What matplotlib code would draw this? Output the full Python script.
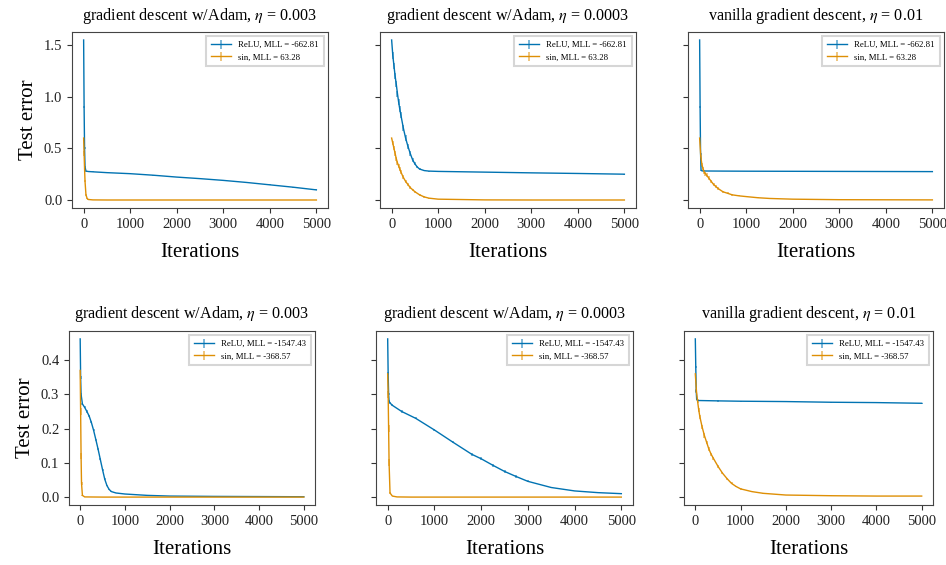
import matplotlib
matplotlib.use("Agg")
import matplotlib.pyplot as plt
import numpy as np

plt.rcParams['font.family'] = ['Liberation Serif', 'DejaVu Serif']
plt.rcParams['mathtext.fontset'] = 'stix'

BLUE = '#0173b2'
ORANGE = '#de8f05'

titles = ["gradient descent w/Adam, $\\eta$ = 0.003",
          "gradient descent w/Adam, $\\eta$ = 0.0003",
          "vanilla gradient descent, $\\eta$ = 0.01"]
legend_top = ["ReLU, MLL = -662.81", "sin, MLL = 63.28"]
legend_bot = ["ReLU, MLL = -1547.43", "sin, MLL = -368.57"]
xticks = [0, 1000, 2000, 3000, 4000, 5000]

# ---- top row (dataset 1) ----
it_t1 = [0, 10, 20, 30, 50, 100, 200, 500, 1000, 1500, 2000, 2500, 3000, 3500, 4000, 4500, 5000]
relu_t1 = [1.55, 0.9, 0.5, 0.32, 0.28, 0.276, 0.273, 0.265, 0.255, 0.24, 0.222, 0.207, 0.19, 0.17, 0.147, 0.124, 0.098]
relu_t1_err = [0.0, 0.01, 0.01, 0.005, 0.004, 0.004, 0.004, 0.004, 0.004, 0.004, 0.004, 0.004, 0.004, 0.004, 0.004, 0.004, 0.004]
it_t1s = [0, 10, 20, 30, 50, 75, 100, 200, 500, 1000, 2000, 3000, 4000, 5000]
sin_t1 = [0.6, 0.45, 0.3, 0.18, 0.05, 0.015, 0.005, 0.001, 0.0, 0.0, 0.0, 0.0, 0.0, 0.0]
sin_t1_err = [0.0, 0.02, 0.02, 0.01, 0.01, 0.005, 0.002, 0.0, 0.0, 0.0, 0.0, 0.0, 0.0, 0.0]

it_t2 = [0, 25, 50, 75, 100, 125, 150, 175, 200, 250, 300, 350, 400, 450, 500, 550, 600, 700, 800, 1000, 2000, 3000, 4000, 5000]
relu_t2 = [1.55, 1.4, 1.3, 1.2, 1.12, 1.03, 0.95, 0.88, 0.82, 0.7, 0.6, 0.52, 0.45, 0.39, 0.35, 0.32, 0.3, 0.285, 0.28, 0.277, 0.27, 0.263, 0.257, 0.25]
relu_t2_err = [0.0, 0.03, 0.03, 0.03, 0.03, 0.03, 0.03, 0.03, 0.03, 0.03, 0.025, 0.022, 0.02, 0.018, 0.015, 0.012, 0.01, 0.007, 0.005, 0.004, 0.003, 0.003, 0.003, 0.003]
it_t2s = [0, 25, 50, 75, 100, 125, 150, 175, 200, 250, 300, 350, 400, 450, 500, 600, 700, 800, 1000, 2000, 3000, 4000, 5000]
sin_t2 = [0.6, 0.55, 0.5, 0.45, 0.4, 0.36, 0.33, 0.3, 0.27, 0.22, 0.18, 0.15, 0.12, 0.1, 0.08, 0.05, 0.03, 0.018, 0.008, 0.001, 0.0, 0.0, 0.0]
sin_t2_err = [0.0, 0.02, 0.02, 0.02, 0.02, 0.02, 0.02, 0.02, 0.02, 0.018, 0.015, 0.013, 0.012, 0.011, 0.01, 0.008, 0.006, 0.004, 0.003, 0.001, 0.0, 0.0, 0.0]

it_t3 = [0, 10, 20, 30, 50, 100, 500, 1000, 2000, 3000, 4000, 5000]
relu_t3 = [1.55, 0.9, 0.45, 0.29, 0.282, 0.281, 0.28, 0.279, 0.278, 0.277, 0.276, 0.275]
relu_t3_err = [0.0, 0.01, 0.01, 0.005, 0.002, 0.002, 0.002, 0.002, 0.002, 0.002, 0.002, 0.002]
it_t3s = [0, 25, 50, 75, 100, 125, 150, 200, 250, 300, 350, 400, 500, 600, 700, 850, 1000, 1250, 1500, 2000, 3000, 4000, 5000]
sin_t3 = [0.6, 0.42, 0.34, 0.3, 0.27, 0.255, 0.24, 0.21, 0.18, 0.15, 0.13, 0.11, 0.08, 0.065, 0.05, 0.04, 0.033, 0.022, 0.015, 0.008, 0.003, 0.002, 0.001]
sin_t3_err = [0.0, 0.02, 0.02, 0.02, 0.02, 0.02, 0.02, 0.02, 0.018, 0.015, 0.014, 0.012, 0.01, 0.009, 0.008, 0.006, 0.005, 0.004, 0.003, 0.002, 0.001, 0.001, 0.001]

# ---- bottom row (dataset 2) ----
it_b1 = [0, 10, 20, 50, 100, 150, 200, 250, 300, 350, 400, 450, 500, 550, 600, 650, 700, 800, 1000, 1500, 2000, 3000, 4000, 5000]
relu_b1 = [0.462, 0.35, 0.3, 0.272, 0.262, 0.25, 0.237, 0.218, 0.195, 0.168, 0.14, 0.11, 0.08, 0.052, 0.033, 0.022, 0.016, 0.012, 0.009, 0.005, 0.003, 0.002, 0.0015, 0.001]
relu_b1_err = [0.0, 0.005, 0.004, 0.003, 0.003, 0.003, 0.003, 0.003, 0.003, 0.003, 0.003, 0.003, 0.003, 0.003, 0.002, 0.002, 0.002, 0.001, 0.001, 0.001, 0.0005, 0.0005, 0.0005, 0.0005]
it_b1s = [0, 10, 20, 30, 50, 100, 500, 1000, 2000, 3000, 4000, 5000]
sin_b1 = [0.37, 0.25, 0.12, 0.04, 0.005, 0.0005, 0.0, 0.0, 0.0, 0.0, 0.0, 0.0]
sin_b1_err = [0.0, 0.01, 0.01, 0.005, 0.002, 0.0, 0.0, 0.0, 0.0, 0.0, 0.0, 0.0]

it_b2 = [0, 10, 20, 30, 50, 100, 300, 600, 1000, 1400, 1800, 2000, 2250, 2500, 2750, 3000, 3500, 4000, 4500, 5000]
relu_b2 = [0.462, 0.36, 0.3, 0.28, 0.275, 0.268, 0.25, 0.23, 0.196, 0.16, 0.125, 0.112, 0.093, 0.075, 0.06, 0.046, 0.028, 0.018, 0.013, 0.01]
relu_b2_err = [0.0, 0.004, 0.003, 0.003, 0.003, 0.003, 0.003, 0.003, 0.003, 0.003, 0.004, 0.004, 0.004, 0.004, 0.004, 0.003, 0.002, 0.001, 0.001, 0.001]
it_b2s = [0, 10, 20, 30, 50, 100, 200, 500, 1000, 2000, 3000, 4000, 5000]
sin_b2 = [0.36, 0.3, 0.2, 0.1, 0.012, 0.003, 0.0005, 0.0, 0.0, 0.0, 0.0, 0.0, 0.0]
sin_b2_err = [0.0, 0.01, 0.01, 0.01, 0.003, 0.001, 0.0, 0.0, 0.0, 0.0, 0.0, 0.0, 0.0]

it_b3 = [0, 10, 20, 30, 50, 100, 500, 1000, 2000, 3000, 4000, 5000]
relu_b3 = [0.462, 0.38, 0.31, 0.285, 0.282, 0.282, 0.281, 0.28, 0.279, 0.277, 0.276, 0.274]
relu_b3_err = [0.0, 0.004, 0.003, 0.002, 0.002, 0.002, 0.002, 0.002, 0.002, 0.002, 0.002, 0.002]
it_b3s = [0, 25, 50, 75, 100, 150, 200, 250, 300, 350, 400, 500, 600, 700, 800, 900, 1000, 1250, 1500, 2000, 3000, 4000, 5000]
sin_b3 = [0.36, 0.31, 0.28, 0.255, 0.235, 0.205, 0.18, 0.16, 0.14, 0.125, 0.113, 0.09, 0.07, 0.054, 0.04, 0.031, 0.024, 0.016, 0.011, 0.006, 0.004, 0.003, 0.003]
sin_b3_err = [0.0, 0.006, 0.006, 0.006, 0.006, 0.006, 0.006, 0.005, 0.005, 0.005, 0.005, 0.004, 0.004, 0.003, 0.003, 0.002, 0.002, 0.002, 0.001, 0.001, 0.001, 0.001, 0.001]

top_data = [(it_t1, relu_t1, relu_t1_err, it_t1s, sin_t1, sin_t1_err),
            (it_t2, relu_t2, relu_t2_err, it_t2s, sin_t2, sin_t2_err),
            (it_t3, relu_t3, relu_t3_err, it_t3s, sin_t3, sin_t3_err)]
bot_data = [(it_b1, relu_b1, relu_b1_err, it_b1s, sin_b1, sin_b1_err),
            (it_b2, relu_b2, relu_b2_err, it_b2s, sin_b2, sin_b2_err),
            (it_b3, relu_b3, relu_b3_err, it_b3s, sin_b3, sin_b3_err)]

fig = plt.figure(figsize=(9.46, 5.65), dpi=100)
W, H = 946, 565

def add_ax(x0, y0, x1, y1, sharey=None):
    return fig.add_axes([x0 / W, 1 - y1 / H, (x1 - x0) / W, (y1 - y0) / H], sharey=sharey)

top_pos = [(72, 32, 328, 208), (380, 32, 636, 208), (688, 32, 944, 208)]
bot_pos = [(69, 331, 315, 505), (376, 331, 633, 505), (684, 331, 933, 505)]

def draw(ax, d, labels, title, first):
    it_r, r, re, it_s, s, se = d
    c1 = ax.errorbar(it_r, r, yerr=re, color=BLUE, lw=1.0, elinewidth=1.2, label=labels[0])
    c2 = ax.errorbar(it_s, s, yerr=se, color=ORANGE, lw=1.0, elinewidth=1.2, label=labels[1])
    for c in (c1, c2):
        for lc in c[2]:
            lc.set_alpha(0.6)
    ax.set_title(title, fontsize=11.6, pad=9)
    ax.set_xlabel("Iterations", fontsize=15, labelpad=9)
    ax.set_xticks(xticks)
    ax.tick_params(labelsize=10.5, color='#333333', labelcolor='#222222')
    for sp in ax.spines.values():
        sp.set_color('#444444')
    if first:
        ax.set_ylabel("Test error", fontsize=15)
    else:
        ax.tick_params(labelleft=False)
    leg = ax.legend(loc='upper right', fontsize=6.3, handlelength=2.3, borderpad=0.55,
                    labelspacing=0.45, fancybox=False)
    leg.get_frame().set_edgecolor('#cccccc')
    leg.get_frame().set_linewidth(1.5)

axs_t = []
for i, p in enumerate(top_pos):
    ax = add_ax(*p, sharey=axs_t[0] if axs_t else None)
    axs_t.append(ax)
    draw(ax, top_data[i], legend_top, titles[i], i == 0)
axs_t[0].set_yticks([0.0, 0.5, 1.0, 1.5])

axs_b = []
for i, p in enumerate(bot_pos):
    ax = add_ax(*p, sharey=axs_b[0] if axs_b else None)
    axs_b.append(ax)
    draw(ax, bot_data[i], legend_bot, titles[i], i == 0)
axs_b[0].set_yticks([0.0, 0.1, 0.2, 0.3, 0.4])

fig.savefig("out.png", dpi=100)
